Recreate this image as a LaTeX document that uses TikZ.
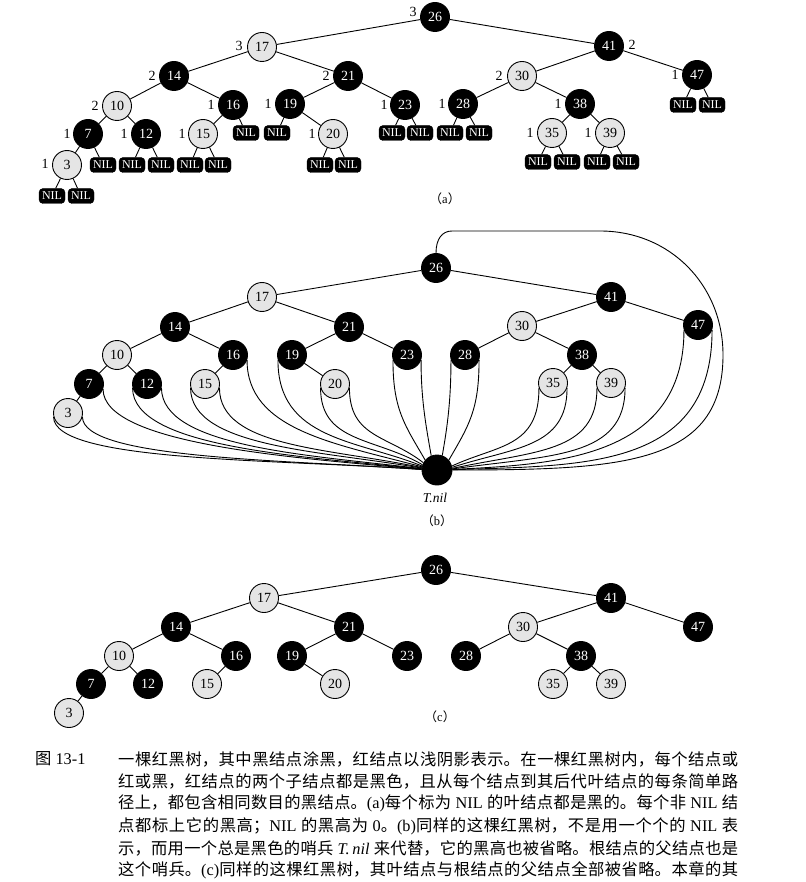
\documentclass[tikz,border=0pt]{standalone}
\usepackage{fontspec}
\setmainfont{Liberation Serif}
\newfontfamily\cjkf{Noto Sans CJK SC}
\newcommand\zh[1]{{\cjkf #1}}
\XeTeXlinebreaklocale "zh"
\XeTeXlinebreakskip=0pt plus 3pt
\newcommand\capline[1]{\parbox{620pt}{\tolerance=10000\parfillskip=0pt\parindent=0pt #1}}
\tikzset{
  ln/.style={line width=0.9pt},
  bn/.style={circle, draw=black, fill=black, line width=0.9pt, minimum size=29pt, inner sep=0pt, text=white, font=\fontsize{14}{14}\selectfont},
  rn/.style={circle, draw=black, fill=black!10, line width=0.9pt, minimum size=29pt, inner sep=0pt, text=black, font=\fontsize{14}{14}\selectfont},
  cbn/.style={bn},
  crn/.style={rn},
  nilb/.style={rectangle, rounded corners=4pt, fill=black, draw=black, minimum width=26pt, minimum height=15pt, inner sep=0pt, text=white, font=\fontsize{12}{12}\selectfont},
  ht/.style={inner sep=0pt, font=\fontsize{14}{14}\selectfont},
  captxt/.style={inner sep=0pt, anchor=west, font=\fontsize{16.3}{20}\selectfont},
  sublab/.style={inner sep=0pt, font=\fontsize{12.5}{13}\selectfont}
}
\begin{document}
\begin{tikzpicture}[x=1pt,y=1pt]
\useasboundingbox (0,0) rectangle (805,-882);

% ---------------- (a) ----------------
\node[bn] (a26) at (435,-17) {26};
\node[rn] (a17) at (262,-47) {17};
\node[bn] (a41) at (609,-46) {41};
\node[bn] (a14) at (174,-76) {14};
\node[bn] (a21) at (348,-76) {21};
\node[rn] (a30) at (522,-76) {30};
\node[bn] (a47) at (697,-75) {47};
\node[rn] (a10) at (117,-106) {10};
\node[bn] (a16) at (233,-105) {16};
\node[bn] (a19) at (290,-104) {19};
\node[bn] (a23) at (405,-105) {23};
\node[bn] (a28) at (463,-104) {28};
\node[bn] (a38) at (580,-104) {38};
\node[bn] (a7) at (88,-134) {7};
\node[bn] (a12) at (146,-134) {12};
\node[rn] (a15) at (203,-134) {15};
\node[rn] (a20) at (333,-134) {20};
\node[rn] (a35) at (552,-133) {35};
\node[rn] (a39) at (610,-133) {39};
\node[rn] (a3) at (67,-165) {3};

\node[nilb] (a3L) at (52,-196) {NIL};
\node[nilb] (a3R) at (81,-196) {NIL};
\node[nilb] (a7R) at (103,-165) {NIL};
\node[nilb] (a12L) at (132,-165) {NIL};
\node[nilb] (a12R) at (161,-165) {NIL};
\node[nilb] (a15L) at (190,-165) {NIL};
\node[nilb] (a15R) at (218,-165) {NIL};
\node[nilb] (a16R) at (246,-133) {NIL};
\node[nilb] (a19L) at (277,-133) {NIL};
\node[nilb] (a20L) at (320,-165) {NIL};
\node[nilb] (a20R) at (348,-165) {NIL};
\node[nilb] (a23L) at (392,-133) {NIL};
\node[nilb] (a23R) at (420,-133) {NIL};
\node[nilb] (a28L) at (450,-133) {NIL};
\node[nilb] (a28R) at (479,-133) {NIL};
\node[nilb] (a35L) at (538,-162) {NIL};
\node[nilb] (a35R) at (567,-162) {NIL};
\node[nilb] (a39L) at (597,-162) {NIL};
\node[nilb] (a39R) at (626,-162) {NIL};
\node[nilb] (a47L) at (683,-105) {NIL};
\node[nilb] (a47R) at (712,-105) {NIL};

\foreach \u/\v in {3/3L,3/3R,7/7R,12/12L,12/12R,15/15L,15/15R,16/16R,19/19L,20/20L,20/20R,23/23L,23/23R,28/28L,28/28R,35/35L,35/35R,39/39L,39/39R,47/47L,47/47R}
  {\draw[ln] (a\u) -- (a\v);}

\node[ht] (ha26) at (413,-12) {3};
\node[ht] (ha17) at (239,-46) {3};
\node[ht] (ha41) at (632,-45) {2};
\node[ht] (ha14) at (152,-76) {2};
\node[ht] (ha21) at (326,-76) {2};
\node[ht] (ha30) at (499,-76) {2};
\node[ht] (ha47) at (675,-75) {1};
\node[ht] (ha10) at (95,-106) {2};
\node[ht] (ha16) at (211,-105) {1};
\node[ht] (ha19) at (268,-104) {1};
\node[ht] (ha23) at (384,-105) {1};
\node[ht] (ha28) at (442,-104) {1};
\node[ht] (ha38) at (558,-104) {1};
\node[ht] (ha7) at (67,-134) {1};
\node[ht] (ha12) at (124,-134) {1};
\node[ht] (ha15) at (182,-134) {1};
\node[ht] (ha20) at (312,-134) {1};
\node[ht] (ha35) at (530,-133) {1};
\node[ht] (ha39) at (588,-133) {1};
\node[ht] (ha3) at (45,-164) {1};

\node[sublab] (laba) at (445,-199) {\zh{（}a\zh{）}};

% ---------------- (b) ----------------
\node[bn] (b26) at (436,-268) {26};
\node[rn] (b17) at (262,-297) {17};
\node[bn] (b41) at (611,-297) {41};
\node[bn] (b14) at (175,-327) {14};
\node[bn] (b21) at (349,-327) {21};
\node[rn] (b30) at (522,-326) {30};
\node[bn] (b47) at (698,-325) {47};
\node[rn] (b10) at (117,-355) {10};
\node[bn] (b16) at (233,-355) {16};
\node[bn] (b19) at (292,-355) {19};
\node[bn] (b23) at (407,-355) {23};
\node[bn] (b28) at (465,-355) {28};
\node[bn] (b38) at (582,-355) {38};
\node[bn] (b7) at (89,-384) {7};
\node[bn] (b12) at (147,-384) {12};
\node[rn] (b15) at (205,-384) {15};
\node[rn] (b20) at (335,-384) {20};
\node[rn] (b35) at (553,-383) {35};
\node[rn] (b39) at (611,-383) {39};
\node[rn] (b3) at (68,-413) {3};
\node[bn, minimum size=30pt] (bnil) at (437,-470) {};
\node[inner sep=0pt, font=\fontsize{13.5}{14}\selectfont\itshape] (tnil) at (435,-498) {T.nil};
\node[sublab] (labb) at (437,-521) {\zh{（}b\zh{）}};

\draw[ln] (b3.195) to[out=-90,in=176,out distance=45pt,in distance=150pt] (bnil.178);
\draw[ln] (b3.345) to[out=-90,in=176,out distance=42pt,in distance=140pt] (bnil.178);
\draw[ln] (b7.340) to[out=-90,in=175,out distance=55pt,in distance=130pt] (bnil.177);
\draw[ln] (b12.195) to[out=-90,in=174,out distance=60pt,in distance=120pt] (bnil.176);
\draw[ln] (b12.345) to[out=-90,in=173,out distance=60pt,in distance=110pt] (bnil.175);
\draw[ln] (b15.195) to[out=-90,in=170,out distance=60pt,in distance=100pt] (bnil.173);
\draw[ln] (b15.345) to[out=-90,in=168,out distance=60pt,in distance=95pt] (bnil.171);
\draw[ln] (b16.340) to[out=-90,in=165,out distance=70pt,in distance=90pt] (bnil.168);
\draw[ln] (b19.200) to[out=-90,in=158,out distance=80pt,in distance=70pt] (bnil.165);
\draw[ln] (b20.195) to[out=-90,in=150,out distance=55pt,in distance=55pt] (bnil.160);
\draw[ln] (b20.345) to[out=-90,in=142,out distance=50pt,in distance=45pt] (bnil.152);
\draw[ln] (b23.200) to[out=-90,in=120,out distance=50pt,in distance=40pt] (bnil.140);
\draw[ln] (b23.340) to[out=-90,in=100,out distance=40pt,in distance=30pt] (bnil.112);
\draw[ln] (b28.200) to[out=-90,in=80,out distance=40pt,in distance=30pt] (bnil.70);
\draw[ln] (b28.340) to[out=-90,in=60,out distance=50pt,in distance=40pt] (bnil.40);
\draw[ln] (b35.200) to[out=-90,in=25,out distance=60pt,in distance=50pt] (bnil.15);
\draw[ln] (b35.340) to[out=-90,in=18,out distance=60pt,in distance=65pt] (bnil.10);
\draw[ln] (b39.200) to[out=-90,in=12,out distance=65pt,in distance=85pt] (bnil.6);
\draw[ln] (b39.340) to[out=-90,in=8,out distance=70pt,in distance=100pt] (bnil.4);
\draw[ln] (b47.200) to[out=-90,in=3,out distance=130pt,in distance=100pt] (bnil.2);
\draw[ln] (b47.340) to[out=-90,in=2,out distance=140pt,in distance=130pt] (bnil.1);

\coordinate (lpA) at (452,-231);
\coordinate (lpB) at (600,-231);
\coordinate (lpC) at (723,-355);
\draw[ln] (b26.north) to[out=90,in=180,out distance=14pt,in distance=10pt] (lpA) -- (lpB)
  to[out=0,in=90,out distance=70pt,in distance=70pt] (lpC)
  to[out=-90,in=0,out distance=110pt,in distance=170pt] (bnil.0);

% ---------------- (c) ----------------
\node[cbn] (c26) at (436,-570) {26};
\node[crn] (c17) at (264,-598) {17};
\node[cbn] (c41) at (611,-598) {41};
\node[cbn] (c14) at (176,-627) {14};
\node[cbn] (c21) at (349,-627) {21};
\node[crn] (c30) at (523,-627) {30};
\node[cbn] (c47) at (698,-627) {47};
\node[crn] (c10) at (119,-656) {10};
\node[cbn] (c16) at (236,-656) {16};
\node[cbn] (c19) at (292,-656) {19};
\node[cbn] (c23) at (407,-656) {23};
\node[cbn] (c28) at (466,-656) {28};
\node[cbn] (c38) at (581,-656) {38};
\node[cbn] (c7) at (91,-684) {7};
\node[cbn] (c12) at (148,-684) {12};
\node[crn] (c15) at (207,-684) {15};
\node[crn] (c20) at (335,-684) {20};
\node[crn] (c35) at (553,-684) {35};
\node[crn] (c39) at (611,-684) {39};
\node[crn] (c3) at (69,-713) {3};
\node[sublab] (labc) at (440,-717) {\zh{（}c\zh{）}};

\foreach \p in {a,b,c}{
  \foreach \u/\v in {26/17,26/41,17/14,17/21,14/10,14/16,10/7,10/12,7/3,16/15,21/19,21/23,19/20,41/30,41/47,30/28,30/38,38/35,38/39}
    {\draw[ln] (\p\u) -- (\p\v);}
}

% ---------------- caption ----------------
\node[captxt] (fig) at (35,-759) {\zh{图} 13-1};
\node[captxt] (l1) at (118,-759) {\capline{\zh{一棵红黑树，其中黑结点涂黑，红结点以浅阴影表示。在一棵红黑树内，每个结点或}}};
\node[captxt] (l2) at (118,-781) {\capline{\zh{红或黑，红结点的两个子结点都是黑色，且从每个结点到其后代叶结点的每条简单路}}};
\node[captxt] (l3) at (118,-803) {\capline{\zh{径上，都包含相同数目的黑结点。}(a)\zh{每个标为} NIL \zh{的叶结点都是黑的。每个非} NIL \zh{结}}};
\node[captxt] (l4) at (118,-826) {\capline{\zh{点都标上它的黑高；}NIL \zh{的黑高为} 0\zh{。}(b)\zh{同样的这棵红黑树，不是用一个个的} NIL \zh{表}}};
\node[captxt] (l5) at (118,-848) {\capline{\zh{示，而用一个总是黑色的哨兵} \textit{T.\,nil} \zh{来代替，它的黑高也被省略。根结点的父结点也是}}};
\node[captxt] (l6) at (118,-870) {\capline{\zh{这个哨兵。}(c)\zh{同样的这棵红黑树，其叶结点与根结点的父结点全部被省略。本章的其}}};
\end{tikzpicture}
\end{document}
